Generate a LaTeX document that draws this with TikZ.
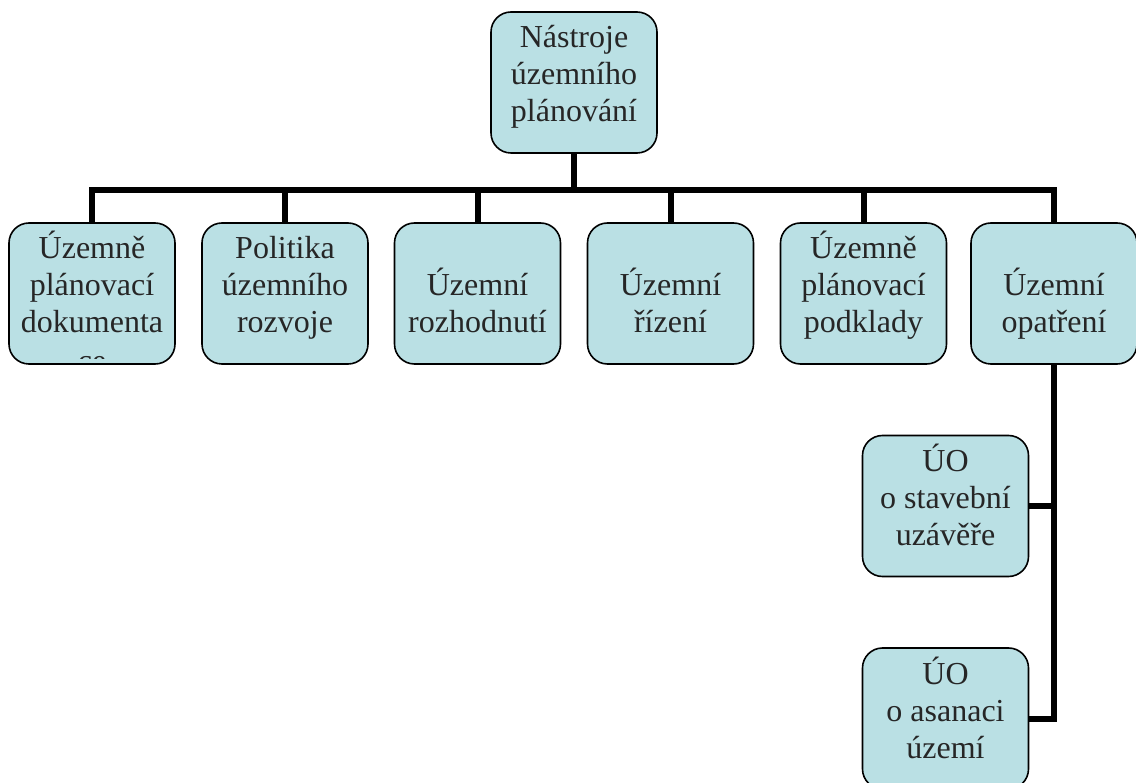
\documentclass[tikz,border=0pt]{standalone}
\usepackage{fontspec}
\setmainfont{Liberation Serif}
\usepackage{tikz}
\definecolor{boxfill}{RGB}{186,224,228}
\definecolor{boxtext}{RGB}{38,38,38}
\newcommand{\radky}[1]{\begin{tabular}[b]{@{}c@{}}#1\end{tabular}}
\tikzset{
  org_n/.style = {rectangle, rounded corners=20pt, draw=black, line width=1.6pt,
    fill=boxfill, minimum width=166pt, minimum height=141pt, inner sep=0pt,
    text height=100pt, text depth=21pt, text=boxtext,
    font=\fontsize{32}{37}\selectfont},% uzel schematu
  org_t/.style = {inner sep=0pt, text=boxtext, font=\fontsize{32}{37}\selectfont},% volny text
  org_e/.style = {draw=black, line width=6pt}% spojnice
}

\begin{document}
\begin{tikzpicture}[x=1pt,y=-1pt]
  \useasboundingbox (0,0) rectangle (1136,783);
  \node [org_n] (root) at (574,82.5) {\radky{Nástroje\\územního\\plánování}};
  \node [org_n] (b1) at (92,293.5) {\radky{Územně\\plánovací\\dokumenta}};
  \node [org_n] (b2) at (285,293.5) {\radky{Politika\\územního\\rozvoje}};
  \node [org_n] (b3) at (477.5,293.5) {\radky{Územní\\rozhodnutí}};
  \node [org_n] (b4) at (670.5,293.5) {\radky{Územní\\řízení}};
  \node [org_n] (b5) at (863.5,293.5) {\radky{Územně\\plánovací\\podklady}};
  \node [org_n] (b6) at (1054,293.5) {\radky{Územní\\opatření}};
  \node [org_n] (u1) at (945.5,506) {\radky{ÚO\\o stavební\\uzávěře}};
  \node [org_n] (u2) at (945.5,718.5) {\radky{ÚO\\o asanaci\\území}};
  % preteceny text v prvnim uzlu
  \begin{scope}
    \clip ([yshift=6pt]b1.south west) rectangle (b1.north east);
    \node [org_t, anchor=base] (b1_ce) at (92,372) {ce};
  \end{scope}
  \coordinate (fork) at (574,190.5);
  \draw [org_e] (root.south) -- (fork);
  \draw [org_e] (b1.north) -- (b1.north |- fork) -- (b6.north |- fork) -- (b6.north);
  \draw [org_e] (b2.north) -- (b2.north |- fork);
  \draw [org_e] (b3.north) -- (b3.north |- fork);
  \draw [org_e] (b4.north) -- (b4.north |- fork);
  \draw [org_e] (b5.north) -- (b5.north |- fork);
  \draw [org_e] (b6.south) -- (b6.south |- u2.east) -- (u2.east);
  \draw [org_e] (u1.east) -- (u1.east -| b6.south);
\end{tikzpicture}
\end{document}
